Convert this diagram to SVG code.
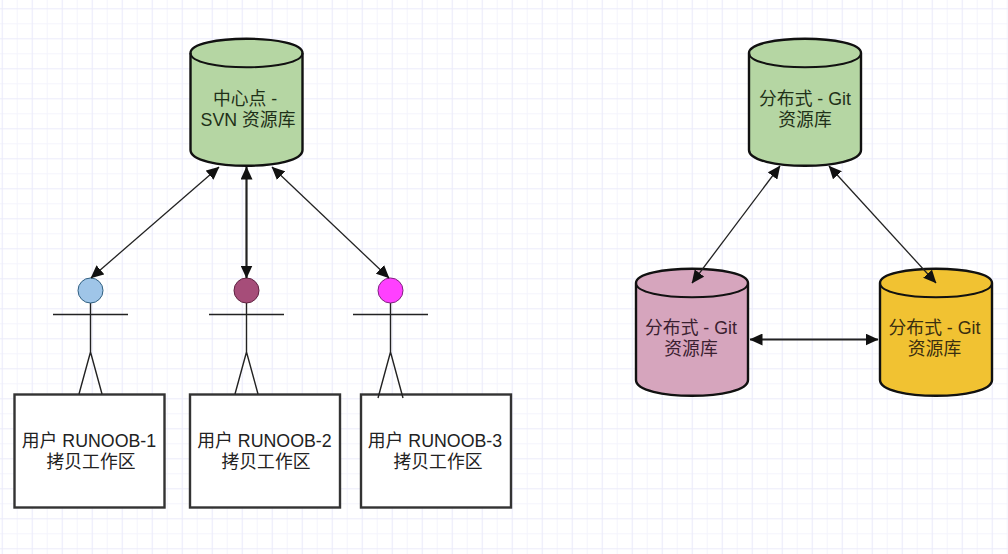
<svg xmlns="http://www.w3.org/2000/svg" width="1008" height="554" viewBox="0 0 1008 554">
<style>
.db{stroke:#111;stroke-width:2.4}
.lid{fill:none;stroke:#111;stroke-width:2}
.t{font-family:"Liberation Sans","Noto Sans CJK SC",sans-serif;font-size:17.800px;fill:#222;text-anchor:middle}
.dg{fill:#1f3018}
.dp{fill:#3a2030}
.dy{fill:#3a2e10}
.box{fill:#fff;stroke:#333;stroke-width:2.4}
.st{fill:none;stroke:#222;stroke-width:1.4}
.c{fill:none;stroke:#222;stroke-width:1.3;marker-start:url(#a);marker-end:url(#a)}
.c2{fill:none;stroke:#222;stroke-width:2.2;marker-start:url(#a);marker-end:url(#a)}
</style>
<defs>
<pattern id="g" width="30" height="30" patternUnits="userSpaceOnUse" x="1.7" y="8.3">
<path d="M15.500 0V30M0 15.500H30" stroke="#f4f4fc" stroke-width="1" fill="none"/>
<path d="M0.500 0V30M0 0.500H30" stroke="#ebebfa" stroke-width="1.2" fill="none"/>
</pattern>
<marker id="a" viewBox="0 0 13 12" refX="12.500" refY="6" markerWidth="13" markerHeight="12" markerUnits="userSpaceOnUse" orient="auto-start-reverse"><path d="M0 0L13 6L0 12Z" fill="#111"/></marker>
<path id="cyl" d="M-56 -50C-56 -69 56 -69 56 -50V47C56 68 -56 68 -56 47Z"/>
<path id="lid" d="M-56 -50C-56 -31 56 -31 56 -50"/>
</defs>
<rect width="1008" height="554" fill="#fff"/>
<rect width="1008" height="554" fill="url(#g)"/>

<g id="db-svn">
<use href="#cyl" transform="translate(246.500,103)" fill="#b5d6a3" class="db"/>
<use href="#lid" transform="translate(246.500,103)" class="lid"/>
<text class="t dg" x="245" y="105">中心点 -</text>
<text class="t dg" x="248" y="126">SVN 资源库</text>
</g>
<g id="db-git-top">
<use href="#cyl" transform="translate(805,103)" fill="#b5d6a3" class="db"/>
<use href="#lid" transform="translate(805,103)" class="lid"/>
<text class="t dg" x="805" y="105">分布式 - Git</text>
<text class="t dg" x="805" y="126">资源库</text>
</g>
<g id="db-git-left">
<use href="#cyl" transform="translate(692,333)" fill="#d6a5bd" class="db"/>
<use href="#lid" transform="translate(692,333)" class="lid"/>
<text class="t dp" x="691" y="334">分布式 - Git</text>
<text class="t dp" x="691" y="355">资源库</text>
</g>
<g id="db-git-right">
<use href="#cyl" transform="translate(936,333)" fill="#f1c232" class="db"/>
<use href="#lid" transform="translate(936,333)" class="lid"/>
<text class="t dy" x="934.500" y="334">分布式 - Git</text>
<text class="t dy" x="934.500" y="355">资源库</text>
</g>

<g id="box-1">
<rect class="box" x="14.500" y="394.500" width="150" height="113"/>
<text class="t" x="89" y="447">用户 RUNOOB-1</text>
<text class="t" x="91" y="468">拷贝工作区</text>
</g>
<g id="box-2">
<rect class="box" x="190" y="394.500" width="150" height="113"/>
<text class="t" x="264.500" y="447">用户 RUNOOB-2</text>
<text class="t" x="266" y="468">拷贝工作区</text>
</g>
<g id="box-3">
<rect class="box" x="361" y="394.500" width="150" height="113"/>
<text class="t" x="435" y="447">用户 RUNOOB-3</text>
<text class="t" x="438" y="468">拷贝工作区</text>
</g>

<g id="user-1">
<path class="st" d="M90.500 303V352M53 314.500H128M90.500 352L79 394M90.500 352L102 394"/>
<circle cx="90.500" cy="290.500" r="12.500" fill="#9fc5e8" stroke="#2f5f80" stroke-width="1"/>
</g>
<g id="user-2">
<path class="st" d="M246.500 303V352M209 314.500H284M246.500 352L235 394M246.500 352L258 394"/>
<circle cx="246.500" cy="290.500" r="12.500" fill="#a64d79" stroke="#5e2040" stroke-width="1"/>
</g>
<g id="user-3">
<path class="st" d="M390.500 303V352M353 314.500H428M390.500 352L378 398M390.500 352L403 398"/>
<circle cx="390.500" cy="290.500" r="12.500" fill="#ff40ff" stroke="#80207f" stroke-width="1"/>
</g>

<g id="connectors">
<path class="c" d="M219 167L91 278"/>
<path class="c2" d="M246.500 167V278"/>
<path class="c" d="M272 167L389 278"/>
<path class="c" d="M780 166L692 283"/>
<path class="c" d="M829 166L936 283"/>
<path class="c2" d="M750 339.500H878"/>
</g>
</svg>
